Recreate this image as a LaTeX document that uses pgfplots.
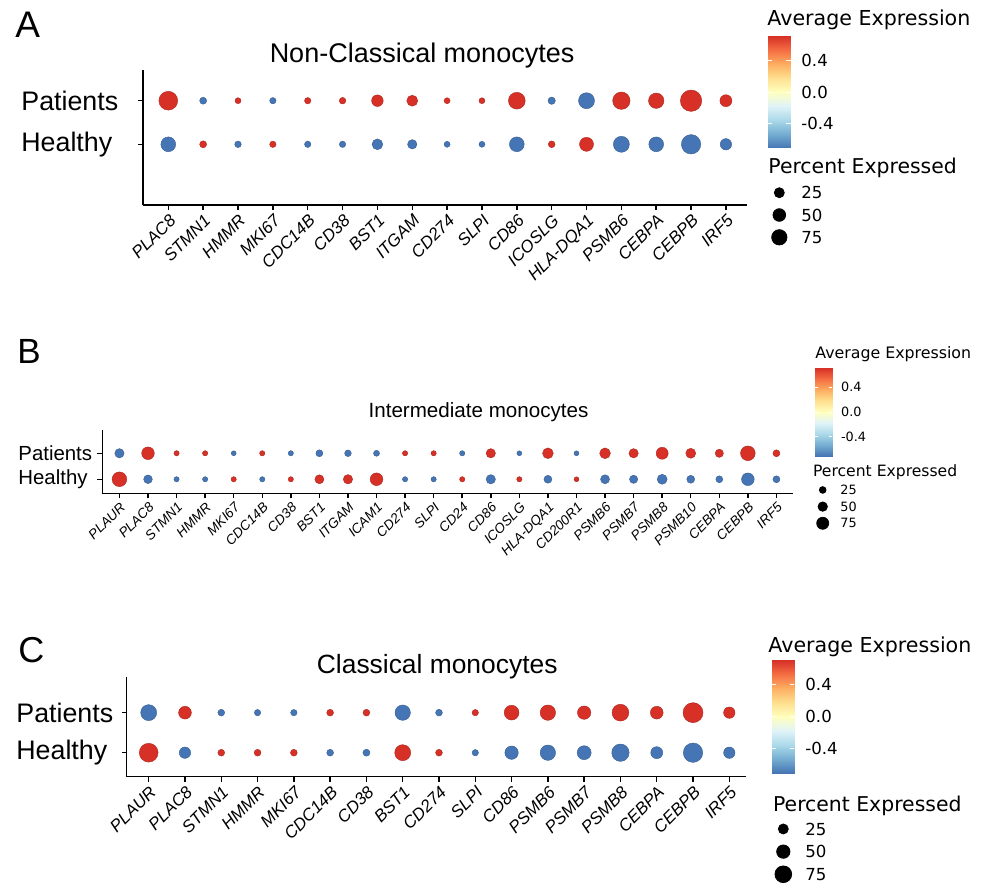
\documentclass[border=0pt]{standalone}
\usepackage{fontspec}
\setmainfont{Liberation Sans}
\newfontfamily\dejavu{DejaVu Sans}
\usepackage{pgfplots}
\pgfplotsset{compat=1.18}
\usepackage{pgfplotstable}

\pgfplotsset{colormap={rdylbu}{rgb255=(69,117,180) rgb255=(116,173,209) rgb255=(171,217,233) rgb255=(224,243,248) rgb255=(255,255,191) rgb255=(254,224,144) rgb255=(253,174,97) rgb255=(244,109,67) rgb255=(215,48,39)}}

% x = gene index, y: 1 = Healthy, 2 = Patients, pct = percent expressed, avg = scaled average expression
\pgfplotstableread{
x y pct avg
1 2 84 0.707
2 2 25 -0.707
3 2 20 0.707
4 2 22 -0.707
5 2 22 0.707
6 2 23 0.707
7 2 48 0.707
8 2 45 0.707
9 2 20 0.707
10 2 20 0.707
11 2 74 0.707
12 2 27 -0.707
13 2 70 -0.707
14 2 77 0.707
15 2 67 0.707
16 2 97 0.707
17 2 50 0.707
1 1 64 -0.707
2 1 25 0.707
3 1 23 -0.707
4 1 22 0.707
5 1 22 -0.707
6 1 22 -0.707
7 1 44 -0.707
8 1 37 -0.707
9 1 20 -0.707
10 1 20 -0.707
11 1 64 -0.707
12 1 24 0.707
13 1 60 0.707
14 1 70 -0.707
15 1 64 -0.707
16 1 87 -0.707
17 1 47 -0.707
}\tabA

\pgfplotstableread{
x y pct avg
1 2 50 -0.707
2 2 81 0.707
3 2 12 0.707
4 2 12 0.707
5 2 9 -0.707
6 2 12 0.707
7 2 12 -0.707
8 2 28 -0.707
9 2 25 -0.707
10 2 19 -0.707
11 2 12 0.707
12 2 12 0.707
13 2 12 -0.707
14 2 50 0.707
15 2 9 -0.707
16 2 63 0.707
17 2 9 -0.707
18 2 63 0.707
19 2 50 0.707
20 2 75 0.707
21 2 56 0.707
22 2 40 0.707
23 2 100 0.707
24 2 28 0.707
1 1 100 0.707
2 1 44 -0.707
3 1 12 -0.707
4 1 12 -0.707
5 1 12 0.707
6 1 12 -0.707
7 1 12 0.707
8 1 47 0.707
9 1 50 0.707
10 1 81 0.707
11 1 12 -0.707
12 1 12 -0.707
13 1 12 0.707
14 1 50 -0.707
15 1 12 0.707
16 1 37 -0.707
17 1 9 0.707
18 1 47 -0.707
19 1 40 -0.707
20 1 56 -0.707
21 1 37 -0.707
22 1 28 -0.707
23 1 81 -0.707
24 1 28 -0.707
}\tabB

\pgfplotstableread{
x y pct avg
1 2 70 -0.707
2 2 54 0.707
3 2 24 -0.707
4 2 22 -0.707
5 2 22 -0.707
6 2 24 0.707
7 2 24 0.707
8 2 67 -0.707
9 2 24 -0.707
10 2 22 0.707
11 2 64 0.707
12 2 67 0.707
13 2 57 0.707
14 2 74 0.707
15 2 54 0.707
16 2 90 0.707
17 2 47 0.707
1 1 84 0.707
2 1 47 -0.707
3 1 24 0.707
4 1 24 0.707
5 1 24 0.707
6 1 24 -0.707
7 1 25 -0.707
8 1 70 0.707
9 1 24 0.707
10 1 22 -0.707
11 1 57 -0.707
12 1 67 -0.707
13 1 60 -0.707
14 1 77 -0.707
15 1 50 -0.707
16 1 87 -0.707
17 1 47 -0.707
}\tabC

\pgfplotstableread{
x y pct
0 3 25
0 2 50
0 1 75
}\tabLeg

\pgfplotsset{
  dotpanel/.style={
    scale only axis, clip=false, anchor=south west,
    axis x line*=bottom, axis y line*=left,
    axis line style={line width=0.75pt, black},
    tick align=outside, major tick length=2.5pt,
    tick style={line width=0.75pt, black},
    ytick={1,2}, yticklabels={Healthy,Patients},
    xticklabel style={rotate=45, anchor=north east, inner sep=1pt},
    yticklabel style={anchor=west, inner sep=0pt},
    every axis title shift=0pt,
    title style={anchor=base, inner sep=0pt, yshift=0pt},
    colormap name=rdylbu, point meta min=-0.707, point meta max=0.707,
  },
  cbar/.style={scale only axis, hide axis, view={0}{90}, xmin=0, xmax=1,
    ymin=-0.707, ymax=0.707, zmin=-1, zmax=1, colormap name=rdylbu,
    point meta min=-0.707, point meta max=0.707, clip=false, anchor=south west},
  sizeleg/.style={scale only axis, hide axis, xmin=-1, xmax=1, ymin=0, ymax=4,
    clip=false, anchor=center, width=10pt},
}

\newcommand{\cbarplot}{\addplot3[surf, shader=interp, point meta=y, mesh/cols=2] coordinates {
(0,-0.707,0) (1,-0.707,0) (0,-0.530,0) (1,-0.530,0) (0,-0.354,0) (1,-0.354,0)
(0,-0.177,0) (1,-0.177,0) (0,0,0) (1,0,0) (0,0.177,0) (1,0.177,0)
(0,0.354,0) (1,0.354,0) (0,0.530,0) (1,0.530,0) (0,0.707,0) (1,0.707,0)};}

\newcommand{\cbartick}[4]{%
  \draw[white, line width=0.5pt] (axis cs:0,#1,0) -- (axis cs:0.2,#1,0);
  \draw[white, line width=0.5pt] (axis cs:0.8,#1,0) -- (axis cs:1,#1,0);
  \node[anchor=west, inner sep=0pt, xshift=#3, font=\dejavu\fontsize{#4}{#4}\selectfont] at (axis cs:1,#1,0) {#2};}
\newcommand{\cbarticks}[2]{%
  \cbartick{-0.4}{-0.4}{#1}{#2}
  \cbartick{0}{0.0}{#1}{#2}
  \cbartick{0.4}{0.4}{#1}{#2}}
\newcommand{\legticks}[2]{%
  \node[anchor=west, inner sep=0pt, font=\dejavu\fontsize{#2}{#2}\selectfont] at (axis cs:#1,3) {25};
  \node[anchor=west, inner sep=0pt, font=\dejavu\fontsize{#2}{#2}\selectfont] at (axis cs:#1,2) {50};
  \node[anchor=west, inner sep=0pt, font=\dejavu\fontsize{#2}{#2}\selectfont] at (axis cs:#1,1) {75};}

\begin{document}
\begin{tikzpicture}
\useasboundingbox (0,0) rectangle (494pt,-442pt);

% ---------------- Panel A ----------------
\node[anchor=base west, inner sep=0pt, font=\fontsize{18.5}{20}\selectfont] at (7.5pt,-18.5pt) {A};
\begin{axis}[dotpanel,
  at={(71.5pt,-102.5pt)}, width=302pt, height=67.5pt,
  xmin=0.274, xmax=17.605, ymin=-0.392, ymax=2.704,
  xtick={1,...,17},
  xticklabels={PLAC8,STMN1,HMMR,MKI67,CDC14B,CD38,BST1,ITGAM,CD274,SLPI,CD86,ICOSLG,HLA-DQA1,PSMB6,CEBPA,CEBPB,IRF5},
  xticklabel style={font=\fontsize{8.5}{9}\selectfont\itshape},
  yticklabel style={xshift=-58.5pt, font=\fontsize{13.4}{14}\selectfont},
  title={Non-Classical monocytes},
  title style={at={(0.462,1.059)}, font=\fontsize{13.5}{14}\selectfont},
]
\addplot[scatter, only marks, mark=*, mark options={line width=0.2pt},
  point meta=\thisrow{avg},
  visualization depends on={\thisrow{pct}\as\perc},
  scatter/@pre marker code/.append style={/tikz/mark size=0.5+0.05*\perc}]
  table[x=x, y=y] {\tabA};
\end{axis}
\node[anchor=base west, inner sep=0pt, font=\dejavu\fontsize{10.3}{11}\selectfont] at (383.5pt,-12.5pt) {Average Expression};
\begin{axis}[cbar, at={(383.85pt,-73.85pt)}, width=11.5pt, height=55.7pt]
\cbarplot
\cbarticks{5.15pt}{8.3}
\end{axis}
\node[anchor=base west, inner sep=0pt, font=\dejavu\fontsize{10.2}{11}\selectfont] at (384pt,-86.5pt) {Percent Expressed};
\begin{axis}[sizeleg, at={(389.65pt,-107.5pt)}, height=44.6pt]
\addplot[scatter, only marks, mark=*, scatter/use mapped color={draw=black, fill=black},
  point meta=\thisrow{pct},
  visualization depends on={\thisrow{pct}\as\perc},
  scatter/@pre marker code/.append style={/tikz/mark size=1.8375+0.0265*\perc}]
  table[x=x, y=y] {\tabLeg};
\legticks{2.17}{8.3}
\end{axis}

% ---------------- Panel B ----------------
\node[anchor=base west, inner sep=0pt, font=\fontsize{17.5}{19}\selectfont] at (8.5pt,-181.5pt) {B};
\begin{axis}[dotpanel,
  at={(51.15pt,-246.65pt)}, width=345.35pt, height=31.65pt,
  xmin=0.4, xmax=24.58, ymin=0.46, ymax=2.895,
  xtick={1,...,24},
  xticklabels={PLAUR,PLAC8,STMN1,HMMR,MKI67,CDC14B,CD38,BST1,ITGAM,ICAM1,CD274,SLPI,CD24,CD86,ICOSLG,HLA-DQA1,CD200R1,PSMB6,PSMB7,PSMB8,PSMB10,CEBPA,CEBPB,IRF5},
  xticklabel style={font=\fontsize{6.8}{7}\selectfont\itshape},
  yticklabel style={xshift=-39.65pt, font=\fontsize{10.2}{11}\selectfont},
  title={Intermediate monocytes},
  title style={at={(0.5447,1.194)}, font=\fontsize{10.3}{11}\selectfont},
]
\addplot[scatter, only marks, mark=*, mark options={line width=0.2pt},
  point meta=\thisrow{avg},
  visualization depends on={\thisrow{pct}\as\perc},
  scatter/@pre marker code/.append style={/tikz/mark size=1+0.02675*\perc}]
  table[x=x, y=y] {\tabB};
\end{axis}
\node[anchor=base west, inner sep=0pt, font=\dejavu\fontsize{7.9}{9}\selectfont] at (407.5pt,-179.15pt) {Average Expression};
\begin{axis}[cbar, at={(407.5pt,-228pt)}, width=8.65pt, height=43.95pt]
\cbarplot
\cbarticks{4.2pt}{6.4}
\end{axis}
\node[anchor=base west, inner sep=0pt, font=\dejavu\fontsize{7.8}{9}\selectfont] at (406.35pt,-238.35pt) {Percent Expressed};
\begin{axis}[sizeleg, at={(411.35pt,-253.3pt)}, height=33.3pt]
\addplot[scatter, only marks, mark=*, scatter/use mapped color={draw=black, fill=black},
  point meta=\thisrow{pct},
  visualization depends on={\thisrow{pct}\as\perc},
  scatter/@pre marker code/.append style={/tikz/mark size=1.0125+0.0265*\perc}]
  table[x=x, y=y] {\tabLeg};
\legticks{1.73}{6.4}
\end{axis}

% ---------------- Panel C ----------------
\node[anchor=base west, inner sep=0pt, font=\fontsize{18}{20}\selectfont] at (9pt,-331pt) {C};
\begin{axis}[dotpanel,
  at={(63.35pt,-388.35pt)}, width=309.65pt, height=49.85pt,
  xmin=0.394, xmax=17.46, ymin=0.4, ymax=2.89,
  xtick={1,...,17},
  xticklabels={PLAUR,PLAC8,STMN1,HMMR,MKI67,CDC14B,CD38,BST1,CD274,SLPI,CD86,PSMB6,PSMB7,PSMB8,CEBPA,CEBPB,IRF5},
  xticklabel style={font=\fontsize{8.5}{9}\selectfont\itshape},
  yticklabel style={xshift=-52.85pt, font=\fontsize{13.4}{14}\selectfont},
  title={Classical monocytes},
  title style={at={(0.5014,1.037)}, font=\fontsize{13.2}{14}\selectfont},
]
\addplot[scatter, only marks, mark=*, mark options={line width=0.2pt},
  point meta=\thisrow{avg},
  visualization depends on={\thisrow{pct}\as\perc},
  scatter/@pre marker code/.append style={/tikz/mark size=0.5+0.05*\perc}]
  table[x=x, y=y] {\tabC};
\end{axis}
\node[anchor=base west, inner sep=0pt, font=\dejavu\fontsize{10.3}{11}\selectfont] at (384pt,-326pt) {Average Expression};
\begin{axis}[cbar, at={(385.85pt,-386.65pt)}, width=11.3pt, height=56.6pt]
\cbarplot
\cbarticks{5.35pt}{8.3}
\end{axis}
\node[anchor=base west, inner sep=0pt, font=\dejavu\fontsize{10.2}{11}\selectfont] at (386.35pt,-405.85pt) {Percent Expressed};
\begin{axis}[sizeleg, at={(391.65pt,-425.8pt)}, height=45.3pt]
\addplot[scatter, only marks, mark=*, scatter/use mapped color={draw=black, fill=black},
  point meta=\thisrow{pct},
  visualization depends on={\thisrow{pct}\as\perc},
  scatter/@pre marker code/.append style={/tikz/mark size=1.6625+0.0335*\perc}]
  table[x=x, y=y] {\tabLeg};
\legticks{2.17}{8.3}
\end{axis}
\end{tikzpicture}
\end{document}
